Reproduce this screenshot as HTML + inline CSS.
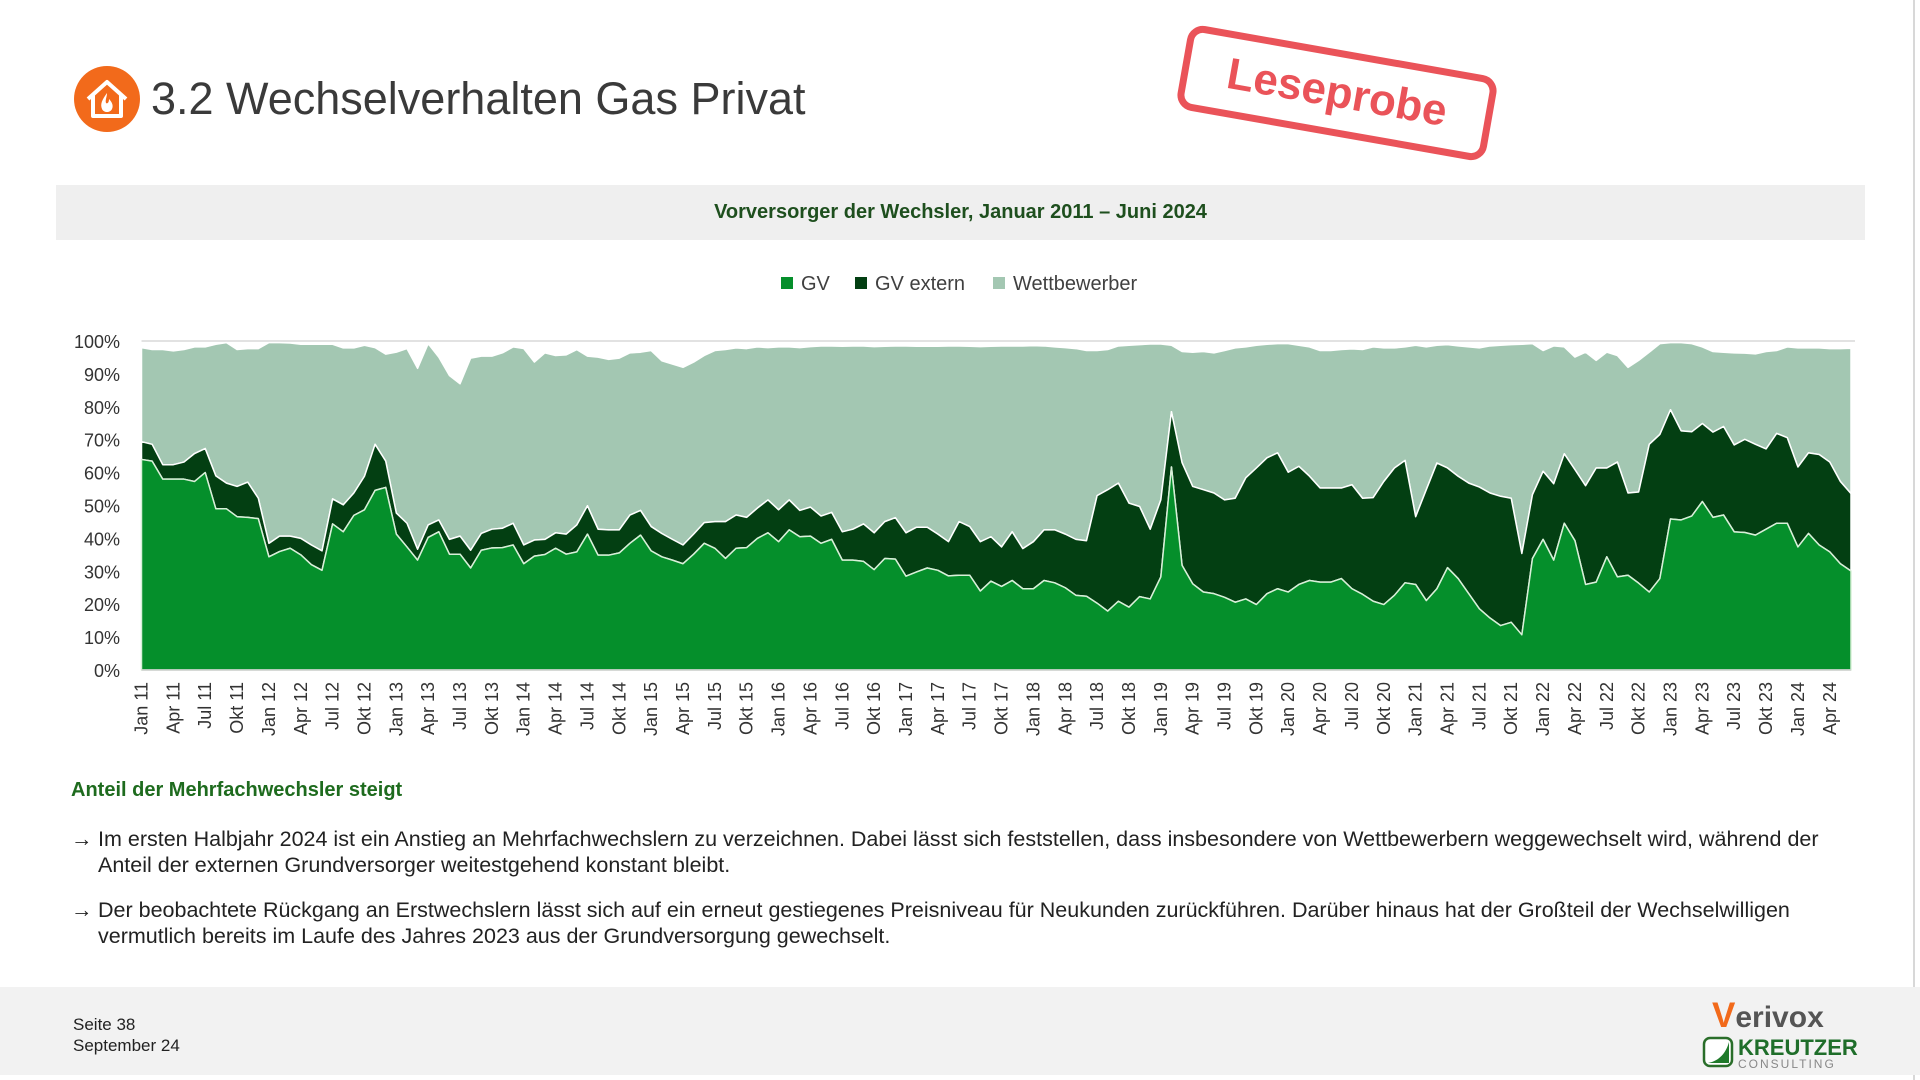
<!DOCTYPE html>
<html><head><meta charset="utf-8">
<style>
html,body{margin:0;padding:0;}
body{width:1920px;height:1080px;position:relative;background:#fff;overflow:hidden;font-family:"Liberation Sans","DejaVu Sans",sans-serif;}
.abs{position:absolute;}
#title{left:151px;top:73px;font-size:45px;color:#3a3a3a;white-space:nowrap;}
#hdr{left:56px;top:185px;width:1809px;height:55px;background:#efefef;}
#hdr span{position:absolute;left:0;right:0;top:16px;text-align:center;font-weight:bold;font-size:20px;color:#1e4f1e;}
#stamp{left:1180px;top:50px;width:300px;height:72px;border:7px solid #ea5359;border-radius:16px;transform:rotate(10deg);color:#ea5359;font-weight:bold;font-size:44px;text-align:center;line-height:72px;}
.leg{top:273px;font-size:20px;color:#404040;white-space:nowrap;}
.leg i{display:inline-block;width:12px;height:12px;margin-right:8px;vertical-align:1px;}
#sub{left:71px;top:779px;font-size:20px;font-weight:bold;color:#1e6b1e;}
.bul{left:71px;font-size:21.5px;color:#222;line-height:26px;width:1820px;white-space:nowrap;}
.bul b{position:absolute;left:0;top:0;font-weight:normal;}
.bul div{margin-left:27px;}
#foot{left:0;top:987px;width:1920px;height:88px;background:#f2f2f2;}
.ft{left:73px;font-size:17px;color:#222;}
</style></head>
<body>
<div class="abs" style="left:1913px;top:0;width:2px;height:1080px;background:#d8d8d8"></div>
<svg class="abs" style="left:74px;top:66px" width="66" height="66">
<circle cx="33" cy="33" r="33" fill="#f26a1b"/>
<path d="M14 33 L33 16 L52 33 M19 29 V50 H47 V29" fill="none" stroke="#fff" stroke-width="4" stroke-linejoin="round"/>
<path d="M33 27 C28 34 26 38 28 43 C30 47 36 47 38 43 C40 39 37 35 35 33 C35 37 33 38 32 37 C31 34 33 31 33 27Z" fill="#fff"/>
</svg>
<div class="abs" id="title">3.2 Wechselverhalten Gas Privat</div>
<div class="abs" id="stamp">Leseprobe</div>
<div class="abs" id="hdr"><span>Vorversorger der Wechsler, Januar 2011 – Juni 2024</span></div>
<div class="abs leg" style="left:781px"><i style="background:#058f2b"></i>GV</div>
<div class="abs leg" style="left:855px"><i style="background:#033f12"></i>GV extern</div>
<div class="abs leg" style="left:993px"><i style="background:#a3c7b2"></i>Wettbewerber</div>
<svg id="chart" class="abs" style="left:0;top:320px" width="1920" height="440"></svg>
<div class="abs" id="sub">Anteil der Mehrfachwechsler steigt</div>
<div class="abs bul" style="top:826px"><b>→</b><div>Im ersten Halbjahr 2024 ist ein Anstieg an Mehrfachwechslern zu verzeichnen. Dabei lässt sich feststellen, dass insbesondere von Wettbewerbern weggewechselt wird, während der<br>Anteil der externen Grundversorger weitestgehend konstant bleibt.</div></div>
<div class="abs bul" style="top:897px"><b>→</b><div>Der beobachtete Rückgang an Erstwechslern lässt sich auf ein erneut gestiegenes Preisniveau für Neukunden zurückführen. Darüber hinaus hat der Großteil der Wechselwilligen<br>vermutlich bereits im Laufe des Jahres 2023 aus der Grundversorgung gewechselt.</div></div>
<div class="abs" id="foot"></div>
<div class="abs ft" style="top:1015px">Seite 38</div>
<div class="abs ft" style="top:1036px">September 24</div>
<div class="abs" style="left:1712px;top:996px;font-size:30px;font-weight:bold;color:#555"><span style="color:#f26a1b;font-size:35px">V</span>erivox</div>
<svg class="abs" style="left:1702px;top:1036px" width="32" height="32"><rect x="2" y="2" width="28" height="28" rx="6" fill="#fff" stroke="#2a6e2a" stroke-width="2.5"/><path d="M6 27 C17 25 24 17 27 6 V27Z" fill="#1f7a2a"/></svg>
<div class="abs" style="left:1738px;top:1035px;font-size:22px;font-weight:bold;color:#1f6e2a">KREUTZER</div>
<div class="abs" style="left:1738px;top:1057px;font-size:12px;color:#888;letter-spacing:2px">CONSULTING</div>
<script>
const months=["Jan","Feb","Mär","Apr","Mai","Jun","Jul","Aug","Sep","Okt","Nov","Dez"];
const yTicks=[0,10,20,30,40,50,60,70,80,90,100];
const gv=[64,63.5,58,58,58,57.3,60,49,49,46.6,46.4,46,
34.4,36,37,35,32,30.3,44.4,42,47,48.7,54.6,55.5,
41.3,37.4,33.4,40.3,42,35.2,35.2,31,36.4,37.1,37.2,38,
32.3,34.6,35.1,37,35.2,35.9,41.3,34.9,34.9,35.6,38.5,41,
36.2,34.4,33.4,32.3,35.2,38.5,37,33.9,37,37.2,40,41.7,
39,42.6,40.5,40.7,38.5,39.7,33.4,33.4,33,30.5,33.9,33.7,
28.5,29.8,31,30.3,28.6,28.8,28.8,24,27,25.4,27.2,24.7,
24.7,27.2,26.5,25,22.7,22.4,20.3,17.9,20.9,19.1,22.3,21.6,
28.3,61.7,31.8,26.2,23.7,23.2,22.1,20.6,21.6,19.9,23.2,24.7,
23.7,26,27.2,26.7,26.7,27.8,24.7,23,20.9,19.9,22.7,26.5,
26,21.1,24.7,31.1,27.8,23.2,18.6,15.8,13.5,14.5,10.7,33.9,
39.7,33.4,44.6,39.3,26,26.7,34.4,28.3,28.8,26.4,23.7,27.8,
45.9,45.6,46.8,51.2,46.4,47.1,42,41.8,41,42.8,44.6,44.6,
37.4,41.5,38,35.9,32.3,30.1];
const gvExtern=[5.4,5.1,4.4,4.4,5.2,8.5,7.3,10,7.8,9.2,10.7,6.2,
4.1,4.7,3.7,5,6,5.9,7.6,8.2,6.8,10.2,14,8,
6.4,7.2,3.3,3.8,3.6,4.5,5.5,5.4,5.1,5.7,5.9,6.6,
5.7,4.9,4.6,4.7,6.1,8.2,8.6,7.9,7.7,7,8.6,7.5,
7.4,7.1,6.3,5.7,6.1,6.3,8.1,11.2,10.1,9.2,9.2,10,
9.7,9.1,8,8.8,8.3,8.2,8.6,9.4,11.4,11.2,11.2,12.6,
13.2,13.6,12.4,11,10.4,16.3,14.8,15,13.5,12,14.8,12.2,
14.3,15.4,16.1,16.3,17,16.9,32.7,36.9,35.9,31.6,27.4,21.2,
23.4,16.8,31.2,29.6,31.1,30.6,29.6,31.6,36.8,41.5,41.3,41.3,
36.4,35.9,31.7,28.6,28.6,27.5,31.6,29.2,31.5,37.4,38.7,37.2,
20.6,33.7,38.2,30.3,31.1,33.6,37,38,39.3,37.7,24.7,19.4,
20.7,23.2,21.1,21.6,30,34.7,27,34.9,25,27.7,44.9,43.8,
33.2,27.1,25.6,23.7,25.9,26.9,26.4,28.3,27.6,24.4,27.3,26,
24.3,24.5,27.5,27.3,25,23.5];
const wettbewerber=[28.6,28.8,35,34.6,34.2,32.4,30.9,40,42.7,41.6,40.6,45.5,
61,58.8,58.7,59,61,62.8,47,47.7,44.1,39.8,29.4,32.5,
48.9,53.1,55,55.1,49.5,49.8,46.3,58.4,53.9,52.6,53.3,53.6,
59.7,54.1,56.7,53.9,54.5,53.3,45.5,52.3,51.8,52.2,49.3,48.1,
53.5,52.5,53.3,54,52.3,50.8,52,52.3,50.8,51.3,49,46.3,
49.5,46.5,49.5,48.8,51.7,50.6,56.4,55.7,54.1,56.6,53.3,52.2,
56.8,55,55,57.1,59.5,53.4,54.8,59.3,57.9,61.1,56.5,61.6,
59.6,55.9,55.6,56.7,58,57.8,44.1,42.6,41.7,48,49.2,56.3,
47.4,20.2,33.8,40.8,42,42.6,45.4,45.7,39.8,37.3,34.5,33.2,
39.1,36.8,39.3,41.8,41.8,42.1,41.3,45.2,45.8,40.6,36.5,34.5,
52.1,43.4,35.8,37.5,39.6,41.4,42.3,44.7,45.9,46.7,63.6,45.9,
36.7,41.9,32.5,34.2,40.6,32.7,35.2,32.4,38.2,40,28,27.6,
20.4,26.8,26.8,23.3,24.5,22.6,28,26.2,27.5,29.6,25.2,27.6,
36.2,31.9,32.4,34.5,40.4,44.2];
const startYear=11;

const NS="http://www.w3.org/2000/svg";
const svg=document.getElementById('chart');
const OY=320;
const X0=141.5,X1=1851,Y0=670-OY,Y100=341-OY;
const n=gv.length;
function xs(i){return X0+(X1-X0)*i/(n-1);}
function ys(v){return Y0+(Y100-Y0)*v/100;}
function mk(tag,attrs){const e=document.createElementNS(NS,tag);for(const k in attrs)e.setAttribute(k,attrs[k]);svg.appendChild(e);return e;}

const g100=mk('line',{x1:X0,x2:X1+4,y1:ys(100),y2:ys(100),stroke:'#d9d9d9','stroke-width':1.5});



const c1=gv.map(v=>v);
const c2=gv.map((v,i)=>v+gvExtern[i]);
const c3=c2.map((v,i)=>v+wettbewerber[i]);
function area(lo,hi){
  let d='';
  for(let i=0;i<n;i++)d+=(i?'L':'M')+xs(i).toFixed(2)+' '+ys(hi[i]).toFixed(2);
  for(let i=n-1;i>=0;i--)d+='L'+xs(i).toFixed(2)+' '+ys(lo[i]).toFixed(2);
  return d+'Z';
}
const zero=gv.map(()=>0);
const aW=mk('path',{d:area(c2,c3),fill:'#a3c7b2',stroke:'#fff','stroke-width':1.5,'stroke-linejoin':'round'});


const aE=mk('path',{d:area(c1,c2),fill:'#033f12',stroke:'#fff','stroke-width':1.5,'stroke-linejoin':'round'});


const aG=mk('path',{d:area(zero,c1),fill:'#058f2b',stroke:'#d8f0d8','stroke-width':1.5,'stroke-linejoin':'round'});


const ax=mk('line',{x1:X0,x2:X1,y1:ys(0),y2:ys(0),stroke:'#cfcfcf','stroke-width':1.5});



yTicks.forEach(t=>{
  const e=mk('text',{x:120,y:ys(t)+7,'text-anchor':'end','font-size':18,fill:'#333','font-family':'Liberation Sans, sans-serif'});
  e.textContent=t+'%';
  
  
});
for(let i=0;i<n;i+=3){
  const name=months[i%12];
  const yr=startYear+Math.floor(i/12);
  const x=xs(i)+6,y=ys(0)+12;
  const e=mk('text',{x:x,y:y,'text-anchor':'end','font-size':18,fill:'#333','font-family':'Liberation Sans, sans-serif',transform:`rotate(-90 ${x} ${y})`});
  e.textContent=name+' '+yr;
  
  
}
</script>
</body></html>
